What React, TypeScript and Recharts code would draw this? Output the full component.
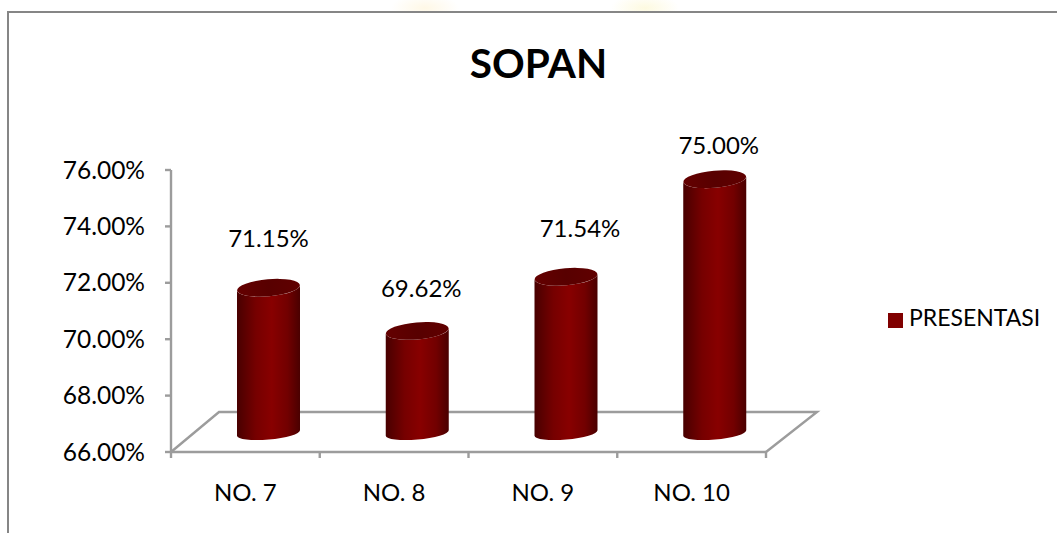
import { Bar, BarChart, Legend, LabelList, XAxis, YAxis, usePlotArea } from "recharts";

const CATEGORIES = ["NO. 7", "NO. 8", "NO. 9", "NO. 10"];
const PRESENTASI = [71.15, 69.62, 71.54, 75.0];
const Y_TICKS = [66, 68, 70, 72, 74, 76];
// how far each data label was dragged from its bar in the original
const LABEL_LIFT = [69, 62, 68, 54];
const LABEL_SHIFT = [0, 4, 14, 4];

const chartData = CATEGORIES.map((name, i) => ({ name, value: PRESENTASI[i] }));

const FONT = "Lato, 'Open Sans', sans-serif";
const AXIS_GREY = "#9c9c9c";
const AXIS_WIDTH = 2.4;
const DEPTH_X = 23;
const DEPTH_Y = 19;

function Floor() {
  const plot = usePlotArea();
  if (!plot) return null;
  const { x, y, width, height } = plot;
  const base = y + height;
  const slots = CATEGORIES.length;
  return (
    <g>
      <polyline
        points={`${x},${base} ${x + 48},${base - 40} ${x + width + 51},${base - 40} ${x + width},${base}`}
        fill="none"
        stroke={AXIS_GREY}
        strokeWidth={AXIS_WIDTH}
      />
      {CATEGORIES.concat("").map((_, i) => (
        <line
          key={i}
          x1={x + (i * width) / slots}
          x2={x + (i * width) / slots}
          y1={base}
          y2={base + 6}
          stroke={AXIS_GREY}
          strokeWidth={AXIS_WIDTH}
        />
      ))}
    </g>
  );
}

function Cylinder(props: any) {
  const { x, y, width, height } = props;
  const rx = width / 2;
  const ry = 8.5;
  const bottomRy = 6.5;
  const tilt = 2.7;
  const cx = x + rx + DEPTH_X;
  const top = y - DEPTH_Y;
  const bottom = y + height - DEPTH_Y;
  const body =
    `M ${cx - rx} ${top + tilt} L ${cx - rx} ${bottom + tilt} ` +
    `A ${rx} ${bottomRy} -5 0 0 ${cx + rx} ${bottom - tilt} L ${cx + rx} ${top - tilt} ` +
    `A ${rx} ${ry} -5 0 1 ${cx - rx} ${top + tilt} Z`;
  return (
    <g>
      <path d={body} fill="url(#cylinderBody)" />
      <ellipse
        cx={cx}
        cy={top}
        rx={rx}
        ry={ry}
        transform={`rotate(-5 ${cx} ${top})`}
        fill="url(#cylinderTop)"
      />
    </g>
  );
}

function ValueLabel(props: any) {
  const { x, y, width, value, index } = props;
  return (
    <text
      x={x + width / 2 + DEPTH_X + LABEL_SHIFT[index]}
      y={y - LABEL_LIFT[index]}
      textAnchor="middle"
      dominantBaseline="central"
      fontSize={24}
      fontFamily={FONT}
      fill="#000"
    >
      {`${Number(value).toFixed(2)}%`}
    </text>
  );
}

export default function App() {
  return (
    <div style={{ position: "fixed", left: 0, top: 0, width: 1057, height: 533, overflow: "hidden", background: "#fff" }}>
      <div
        style={{
          position: "absolute",
          left: 370,
          top: -22,
          width: 320,
          height: 33,
          background:
            "radial-gradient(ellipse 34px 14px at 55px 30px, #fff8e6, transparent), radial-gradient(ellipse 34px 14px at 275px 30px, #fdfae0, transparent)",
        }}
      />
      <div
        style={{
          position: "absolute",
          left: 7,
          top: 11,
          width: 1100,
          height: 600,
          borderLeft: "2px solid #868686",
          borderTop: "2px solid #868686",
        }}
      />
      <div
        style={{
          position: "absolute",
          left: 0,
          width: 1077,
          top: 38,
          textAlign: "center",
          fontFamily: FONT,
          fontWeight: 700,
          fontSize: 40.5,
          lineHeight: "50px",
          color: "#000",
        }}
      >
        SOPAN
      </div>
      <BarChart
        width={1057}
        height={533}
        data={chartData}
        margin={{ top: 170, right: 122, bottom: 0, left: 0 }}
        style={{ position: "absolute", left: 0, top: 0 }}
      >
        <defs>
          <linearGradient id="cylinderBody" x1="0" x2="1" y1="0" y2="0">
            <stop offset="0%" stopColor="#480000" />
            <stop offset="30%" stopColor="#760000" />
            <stop offset="55%" stopColor="#880000" />
            <stop offset="80%" stopColor="#720000" />
            <stop offset="100%" stopColor="#4a0000" />
          </linearGradient>
          <linearGradient id="cylinderTop" x1="0" x2="1" y1="0" y2="0">
            <stop offset="0%" stopColor="#640000" />
            <stop offset="50%" stopColor="#580000" />
            <stop offset="100%" stopColor="#600000" />
          </linearGradient>
        </defs>
        <Floor />
        <YAxis
          width={171}
          domain={[66, 76]}
          ticks={Y_TICKS}
          interval={0}
          tickFormatter={(v: number) => `${v.toFixed(2)}%`}
          tick={{ fontSize: 24.5, fontFamily: FONT, fill: "#000" }}
          tickSize={6}
          tickMargin={20}
          axisLine={{ stroke: AXIS_GREY, strokeWidth: AXIS_WIDTH }}
          tickLine={{ stroke: AXIS_GREY, strokeWidth: AXIS_WIDTH }}
        />
        <XAxis
          dataKey="name"
          height={81}
          interval={0}
          tick={{ fontSize: 24, fontFamily: FONT, fill: "#000" }}
          tickLine={false}
          tickMargin={26}
          axisLine={{ stroke: AXIS_GREY, strokeWidth: AXIS_WIDTH }}
        />
        <Legend
          layout="vertical"
          align="right"
          verticalAlign="middle"
          width={169}
          iconType="square"
          iconSize={15}
          wrapperStyle={{ left: 888, top: 303, fontFamily: FONT, fontSize: 23 }}
          formatter={(value) => <span style={{ color: "#000", marginLeft: 2 }}>{value}</span>}
        />
        <Bar
          dataKey="value"
          name="PRESENTASI"
          fill="#800000"
          barSize={63}
          shape={Cylinder}
          isAnimationActive={false}
        >
          <LabelList dataKey="value" content={ValueLabel} />
        </Bar>
      </BarChart>
    </div>
  );
}
